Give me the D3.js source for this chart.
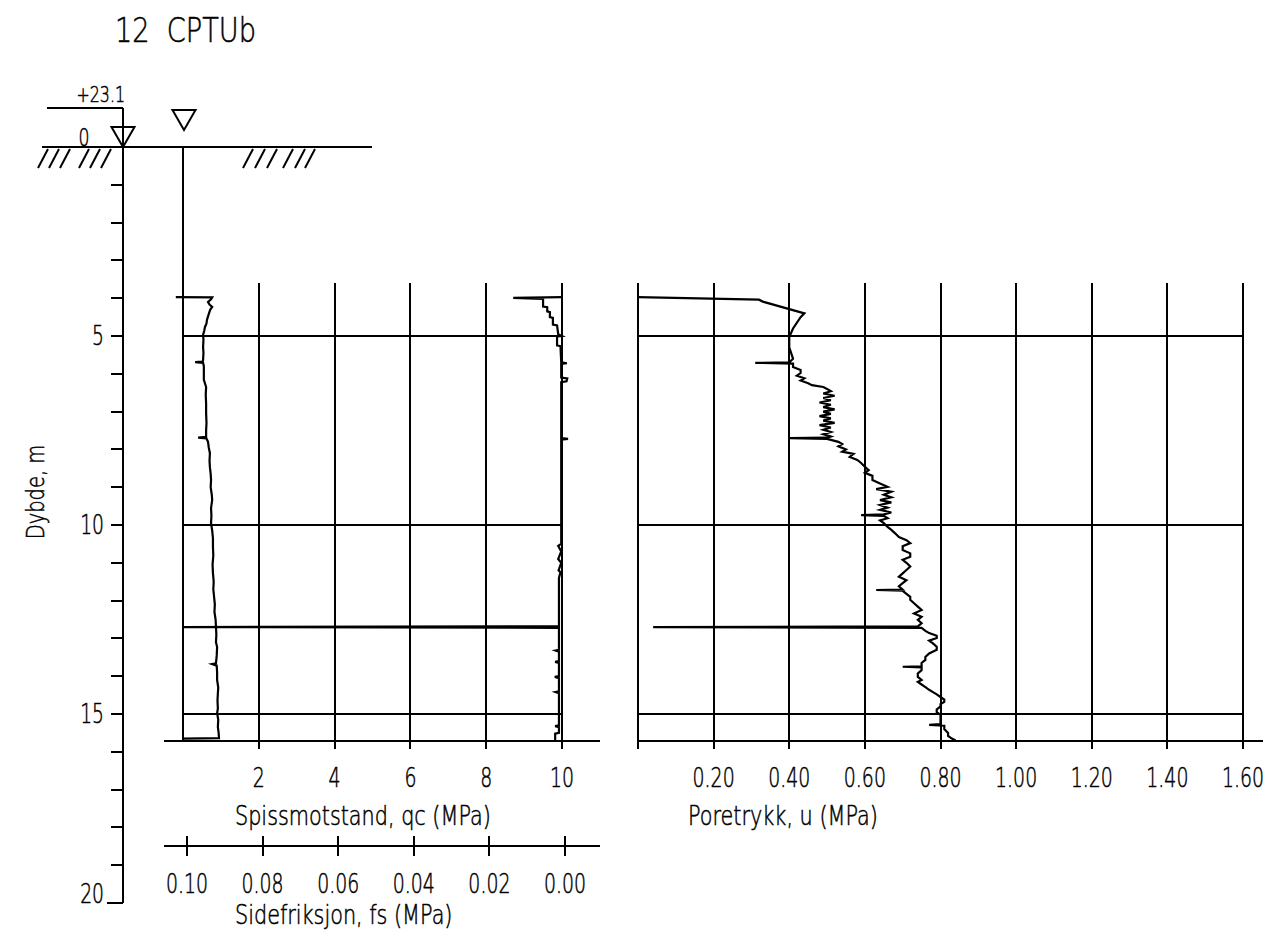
<!DOCTYPE html>
<html>
<head>
<meta charset="utf-8">
<script src="https://cdn.jsdelivr.net/npm/d3@7"></script>
<style>
body { margin: 0; background: #fff; }
text { font-family: "DejaVu Sans", sans-serif; font-weight: 200; fill: #000; stroke: #000; stroke-width: 0.55px; }
</style>
</head>
<body>
<div class="chart"></div>
<script>
// ---- data (depth m, value) ----
var qcData = [[3.97,-0.19],[3.98,0.77],[4.03,0.74],[4.10,0.66],[4.17,0.70],[4.23,0.77],[4.30,0.72],[4.39,0.69],[4.48,0.66],[4.58,0.63],[4.67,0.62],[4.76,0.58],[4.86,0.56],[4.97,0.53],[5.10,0.54],[5.29,0.53],[5.45,0.54],[5.63,0.53],[5.68,0.52],[5.69,0.32],[5.71,0.53],[5.80,0.55],[6.00,0.55],[6.16,0.55],[6.35,0.61],[6.55,0.60],[6.80,0.61],[7.04,0.61],[7.30,0.62],[7.50,0.61],[7.67,0.61],[7.69,0.40],[7.71,0.62],[7.80,0.66],[7.95,0.68],[8.10,0.71],[8.30,0.70],[8.47,0.71],[8.65,0.73],[8.81,0.74],[9.00,0.73],[9.20,0.76],[9.34,0.77],[9.55,0.74],[9.75,0.75],[9.95,0.74],[10.15,0.77],[10.35,0.79],[10.58,0.79],[10.80,0.80],[11.05,0.78],[11.27,0.79],[11.50,0.81],[11.70,0.80],[11.90,0.82],[12.10,0.84],[12.30,0.83],[12.50,0.86],[12.70,0.87],[12.90,0.88],[13.10,0.87],[13.23,0.90],[13.45,0.89],[13.66,0.87],[13.68,0.77],[13.72,0.89],[13.90,0.90],[14.10,0.90],[14.30,0.93],[14.45,0.92],[14.65,0.91],[14.85,0.92],[14.98,0.90],[15.15,0.93],[15.34,0.92],[15.50,0.94],[15.64,0.95],[15.65,0.0]];

var fsData = [[3.97,0.0008],[3.99,0.0137],[4.02,0.0058],[4.22,0.0058],[4.24,0.0047],[4.35,0.0047],[4.37,0.0040],[4.50,0.0040],[4.52,0.0032],[4.70,0.0032],[4.72,0.0021],[4.95,0.0018],[5.00,0.0008],[5.01,0.0021],[5.25,0.0021],[5.27,0.0012],[5.70,0.0010],[5.72,-0.0005],[5.74,0.0010],[6.10,0.0010],[6.12,-0.0006],[6.20,-0.0004],[6.22,0.0010],[7.70,0.0010],[7.72,-0.0008],[7.74,0.0010],[10.50,0.0010],[10.55,0.0018],[10.70,0.0010],[10.90,0.0018],[11.00,0.0010],[11.20,0.0017],[11.25,0.0012],[11.40,0.0016],[12.68,0.0016],[12.70,0.101],[12.72,0.0016],[13.30,0.0016],[13.32,0.0025],[13.35,0.0016],[13.60,0.0016],[13.62,0.0026],[13.65,0.0016],[14.00,0.0016],[14.02,0.0027],[14.05,0.0016],[14.40,0.0016],[14.42,0.0025],[14.45,0.0016],[15.30,0.0016],[15.32,0.0026],[15.35,0.0016],[15.50,0.0016],[15.52,0.0026],[15.70,0.0026]];

var uData = [[3.97,0.0],[4.04,0.32],[4.09,0.33],[4.40,0.44],[4.50,0.43],[4.80,0.41],[5.03,0.40],[5.30,0.40],[5.60,0.41],[5.70,0.40],[5.71,0.31],[5.73,0.41],[5.82,0.41],[5.90,0.43],[5.98,0.43],[6.05,0.42],[6.12,0.44],[6.18,0.43],[6.25,0.45],[6.30,0.46],[6.35,0.49],[6.40,0.50],[6.46,0.51],[6.52,0.49],[6.58,0.52],[6.64,0.49],[6.70,0.51],[6.76,0.48],[6.82,0.51],[6.88,0.49],[6.94,0.52],[7.00,0.49],[7.06,0.51],[7.12,0.48],[7.18,0.51],[7.24,0.49],[7.30,0.52],[7.36,0.48],[7.42,0.51],[7.48,0.49],[7.54,0.51],[7.60,0.49],[7.66,0.51],[7.69,0.50],[7.70,0.40],[7.72,0.50],[7.80,0.53],[7.86,0.54],[7.92,0.53],[8.00,0.55],[8.06,0.54],[8.12,0.57],[8.20,0.56],[8.28,0.58],[8.36,0.59],[8.46,0.60],[8.55,0.61],[8.62,0.60],[8.70,0.62],[8.81,0.62],[8.90,0.64],[8.99,0.66],[9.05,0.63],[9.12,0.67],[9.20,0.65],[9.27,0.67],[9.34,0.64],[9.40,0.67],[9.47,0.64],[9.54,0.66],[9.60,0.64],[9.67,0.67],[9.72,0.65],[9.74,0.59],[9.76,0.65],[9.82,0.66],[9.88,0.64],[9.95,0.65],[10.05,0.66],[10.13,0.67],[10.22,0.68],[10.32,0.69],[10.40,0.71],[10.48,0.72],[10.56,0.70],[10.66,0.70],[10.75,0.72],[10.84,0.72],[10.92,0.70],[11.00,0.71],[11.10,0.72],[11.19,0.71],[11.28,0.70],[11.37,0.69],[11.46,0.71],[11.54,0.70],[11.62,0.69],[11.71,0.70],[11.72,0.63],[11.74,0.70],[11.82,0.71],[11.90,0.72],[11.98,0.72],[12.07,0.73],[12.16,0.74],[12.25,0.75],[12.34,0.73],[12.43,0.75],[12.51,0.74],[12.60,0.75],[12.68,0.74],[12.70,0.04],[12.72,0.75],[12.80,0.76],[12.86,0.77],[12.93,0.79],[12.99,0.79],[13.06,0.77],[13.13,0.78],[13.22,0.79],[13.30,0.79],[13.40,0.77],[13.49,0.76],[13.57,0.76],[13.65,0.75],[13.74,0.75],[13.75,0.70],[13.77,0.75],[13.84,0.75],[13.93,0.74],[14.02,0.74],[14.10,0.75],[14.15,0.74],[14.22,0.75],[14.29,0.76],[14.36,0.77],[14.42,0.78],[14.48,0.79],[14.55,0.80],[14.62,0.81],[14.68,0.81],[14.74,0.80],[14.80,0.80],[14.88,0.79],[14.95,0.79],[15.02,0.80],[15.08,0.80],[15.18,0.80],[15.27,0.80],[15.29,0.77],[15.31,0.81],[15.40,0.81],[15.50,0.82],[15.58,0.82],[15.65,0.83],[15.70,0.84]];

// ---- ticks / labels ----
var depthTicks = d3.range(1, 21);
var depthLabels = [5, 10, 15, 20];
var gridDepths = [5, 10, 15];
var qcTicks = [2, 4, 6, 8, 10];
var fsTicks = [0.10, 0.08, 0.06, 0.04, 0.02, 0.00];
var uTicks = [0.20, 0.40, 0.60, 0.80, 1.00, 1.20, 1.40, 1.60];
var title = "12  CPTUb";
var elevation = "+23.1";

var svg_w = 1272, svg_h = 942;
var svg = d3.select("div.chart").append("svg")
	.attr("width", svg_w)
	.attr("height", svg_h);

// scales
var y = d3.scaleLinear().domain([0, 20]).range([147, 903]);
var xQc = d3.scaleLinear().domain([0, 10]).range([183, 562]);
var xFs = d3.scaleLinear().domain([0.10, 0]).range([187, 565]);
var xU = d3.scaleLinear().domain([0, 1.6]).range([638, 1243]);
var topDepth = 3.6, botDepth = 15.71;

function ln(g, x1, y1, x2, y2, w) {
	g.append("line")
		.attr("x1", Math.round(x1)).attr("y1", Math.round(y1))
		.attr("x2", Math.round(x2)).attr("y2", Math.round(y2))
		.attr("stroke", "#000")
		.attr("stroke-width", w || 2);
}

// text squeezed horizontally, like the narrow plotter font
function label(x, yy, str, size, anchor, sx) {
	return svg.append("text")
		.attr("transform", "translate(" + x + "," + yy + ") scale(" + (sx || 0.72) + ",1)")
		.attr("text-anchor", anchor || "start")
		.attr("font-size", size)
		.text(str);
}

var g = svg.append("g");

// title
label(115, 42, title, 34, "start", 0.8).attr("xml:space", "preserve").style("white-space", "pre");

// ground line, hatching, water level marks
ln(g, 42, y(0), 372, y(0));
var hatchX = [48, 59, 70, 89, 100, 111, 253, 265, 277, 293, 305, 315];
hatchX.forEach(function(hx) { ln(g, hx, y(0) + 2, hx - 10, y(0) + 21, 2); });

ln(g, 47, 108, 123, 108);
label(125, 102, elevation, 22, "end", 0.72);
label(84, 146, "0", 24, "middle", 0.72);

function tri(cx, bottom) {
	g.append("path")
		.attr("d", "M" + (cx - 11.5) + "," + (bottom - 20) + "L" + (cx + 11.5) + "," + (bottom - 20) + "L" + cx + "," + bottom + "Z")
		.attr("fill", "none").attr("stroke", "#000").attr("stroke-width", 2);
}
tri(123, y(0));
tri(184, 130);

// depth axis
ln(g, 123, 108, 123, y(20));
depthTicks.forEach(function(d) { ln(g, 111, y(d), 123, y(d)); });
ln(g, 107, y(20), 123, y(20));
depthLabels.forEach(function(d) {
	label(104, d == 20 ? y(d) : y(d) + 9, d, 26, "end", 0.72);
});
svg.append("text")
	.attr("transform", "translate(44,492) rotate(-90) scale(0.78,1)")
	.attr("text-anchor", "middle").attr("font-size", 25).text("Dybde, m");

// ---- left panel: qc / fs ----
ln(g, xQc(0), y(0), xQc(0), y(botDepth));
qcTicks.forEach(function(v) { ln(g, xQc(v), y(topDepth), xQc(v), y(botDepth) + 8); });
gridDepths.forEach(function(d) { ln(g, xQc(0), y(d), xQc(10), y(d)); });
ln(g, 164, y(botDepth), 600, y(botDepth));
qcTicks.forEach(function(v) { label(xQc(v), 787, v, 27, "middle", 0.7); });
label(235, 825, "Spissmotstand, qc (MPa)", 27, "start", 0.77);

ln(g, 164, 846, 600, 846);
fsTicks.forEach(function(v) {
	ln(g, xFs(v), 836, xFs(v), 856);
	label(xFs(v), 893, d3.format(".2f")(v), 27, "middle", 0.7);
});
label(235, 924, "Sidefriksjon, fs (MPa)", 27, "start", 0.77);

var qcLine = d3.line().x(function(d) { return xQc(d[1]); }).y(function(d) { return y(d[0]); });
var fsLine = d3.line().x(function(d) { return xFs(d[1]); }).y(function(d) { return y(d[0]); });
g.append("path").datum(qcData).attr("d", qcLine)
	.attr("fill", "none").attr("stroke", "#000").attr("stroke-width", 2.2);
g.append("path").datum(fsData).attr("d", fsLine)
	.attr("fill", "none").attr("stroke", "#000").attr("stroke-width", 2.2);

// ---- right panel: u ----
ln(g, xU(0), y(topDepth), xU(0), y(botDepth) + 8);
uTicks.forEach(function(v) { ln(g, xU(v), y(topDepth), xU(v), y(botDepth) + 8); });
gridDepths.forEach(function(d) { ln(g, xU(0), y(d), xU(1.6), y(d)); });
ln(g, xU(0), y(botDepth), 1263, y(botDepth));
uTicks.forEach(function(v) { label(xU(v), 787, d3.format(".2f")(v), 27, "middle", 0.7); });
label(688, 825, "Poretrykk, u (MPa)", 27, "start", 0.77);

var uLine = d3.line().x(function(d) { return xU(d[1]); }).y(function(d) { return y(d[0]); });
g.append("path").datum(uData).attr("d", uLine)
	.attr("fill", "none").attr("stroke", "#000").attr("stroke-width", 2.2);
</script>
</body>
</html>
